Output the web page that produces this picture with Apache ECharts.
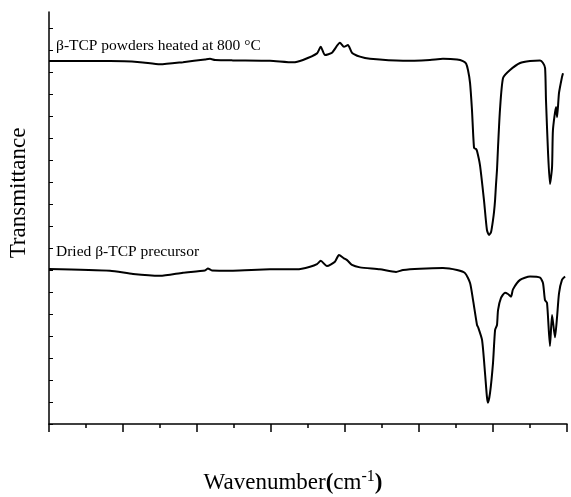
<!DOCTYPE html>
<html>
<head>
<meta charset="utf-8">
<title>FTIR</title>
<style>
    html, body { margin: 0; padding: 0; background: #fff; }
    #main { width: 571px; height: 497px; }
</style>
</head>
<body>
<div id="main"></div>
<script src="https://cdn.jsdelivr.net/npm/echarts@6/dist/echarts.min.js"></script>
<script>
    // wavenumber (cm-1) / transmittance (arb. units, offset)
    var heatedWn = [4000, 3588, 3385, 3250, 3095, 2946, 2912, 2878, 2757, 2507, 2351, 2284, 2189, 2164, 2135, 2088, 2034, 2007, 1980, 1953, 1899, 1831, 1608, 1426, 1338, 1243, 1203, 1182, 1169, 1155, 1142, 1128, 1115, 1108, 1088, 1061, 1041, 1027, 1013, 1000, 993, 986, 980, 973, 966, 953, 932, 885, 817, 750, 682, 662, 648, 642, 628, 615, 601, 595, 574, 567, 554, 534, 527];
    var heatedT = [165.0, 165.0, 164.5, 163.5, 164.5, 165.7, 166.0, 165.5, 165.3, 165.1, 164.4, 165.5, 168.5, 171.5, 167.7, 168.8, 173.3, 171.5, 172.3, 168.8, 167.0, 166.0, 165.1, 165.5, 166.0, 165.7, 165.0, 163.9, 160.9, 155.0, 142.7, 125.5, 125.0, 124.1, 117.7, 101.8, 88.2, 85.9, 87.3, 92.7, 96.4, 101.8, 108.6, 115.5, 125.9, 142.7, 157.3, 160.9, 164.1, 165.0, 165.2, 164.1, 161.8, 147.3, 123.2, 109.1, 116.8, 133.6, 144.1, 139.5, 150.5, 157.7, 159.5];

    var driedWn = [4000, 3588, 3432, 3250, 3095, 2946, 2926, 2899, 2757, 2507, 2324, 2236, 2189, 2164, 2122, 2068, 2041, 2007, 1986, 1953, 1899, 1764, 1655, 1608, 1493, 1338, 1243, 1189, 1155, 1135, 1108, 1101, 1074, 1054, 1041, 1034, 1020, 1000, 986, 973, 966, 946, 919, 899, 878, 865, 817, 750, 682, 662, 649, 635, 615, 601, 581, 567, 554, 534, 513];
    var driedT = [70.5, 69.7, 68.2, 67.4, 68.8, 69.8, 70.7, 69.8, 69.7, 70.3, 70.3, 71.5, 72.7, 74.2, 71.8, 73.8, 76.8, 75.3, 74.5, 72.3, 71.2, 70.3, 69.1, 70.0, 70.6, 70.9, 70.0, 68.6, 64.1, 56.4, 45.0, 44.1, 38.2, 23.2, 12.3, 9.7, 14.1, 27.7, 42.7, 45.0, 51.8, 57.3, 59.7, 59.1, 57.9, 61.2, 65.5, 67.0, 66.5, 64.0, 56.4, 55.1, 35.5, 49.5, 39.4, 48.8, 59.4, 65.5, 67.0];

    var yTicks = [0, 10, 20, 30, 40, 50, 60, 70, 80, 90, 100, 110, 120, 130, 140, 150, 160, 170, 180];

    function pairs(xs, ys) {
        var out = [];
        for (var i = 0; i < xs.length; i++) out.push([xs[i], ys[i]]);
        return out;
    }

    var serif = '"Liberation Serif", "DejaVu Serif", serif';
    var myChart = echarts.init(document.getElementById('main'));

    myChart.setOption({
        animation: false,
        backgroundColor: '#fff',
        grid: { left: 49, right: 4, top: 12, bottom: 73 },
        xAxis: {
            type: 'value',
            inverse: true,
            min: 500,
            max: 4000,
            interval: 500,
            axisLine: { show: true, onZero: false, lineStyle: { color: '#000', width: 1.5 } },
            axisTick: { show: true, inside: false, length: 8, lineStyle: { color: '#000', width: 1.5 } },
            minorTick: { show: true, splitNumber: 2, length: 4, lineStyle: { color: '#000', width: 1.5 } },
            axisLabel: { show: false },
            splitLine: { show: false },
            minorSplitLine: { show: false }
        },
        yAxis: {
            type: 'value',
            min: 0,
            max: 187.3,
            axisLine: { show: true, lineStyle: { color: '#000', width: 1.5 } },
            axisTick: { show: true, inside: true, length: 4, customValues: yTicks, lineStyle: { color: '#000', width: 1 } },
            axisLabel: { show: false, customValues: yTicks },
            splitLine: { show: false }
        },
        series: [
            {
                name: 'heated',
                type: 'line',
                showSymbol: false,
                smooth: 0.2,
                lineStyle: { color: '#000', width: 2 },
                data: pairs(heatedWn, heatedT)
            },
            {
                name: 'dried',
                type: 'line',
                showSymbol: false,
                smooth: 0.2,
                lineStyle: { color: '#000', width: 2 },
                data: pairs(driedWn, driedT)
            }
        ],
        graphic: [
            {
                type: 'text', left: 56, top: 38,
                style: { text: 'β-TCP powders heated at 800 °C', font: '15.5px ' + serif, fill: '#000' }
            },
            {
                type: 'text', left: 56, top: 244,
                style: { text: 'Dried β-TCP precursor', font: '15.5px ' + serif, fill: '#000' }
            },
            {
                type: 'text', x: 19, y: 193, rotation: Math.PI / 2,
                style: { text: 'Transmittance', font: '23px ' + serif, fill: '#000', align: 'center', verticalAlign: 'middle' }
            },
            {
                type: 'text', x: 293, y: 483,
                style: {
                    text: 'Wavenumber{b|(}cm{sup|-1}{b|)}',
                    font: '23px ' + serif,
                    fill: '#000',
                    align: 'center',
                    verticalAlign: 'middle',
                    rich: {
                        b: { font: 'bold 23px ' + serif, fill: '#000' },
                        sup: { font: '16px ' + serif, fill: '#000', verticalAlign: 'top', padding: [0, 0, 12, 0] }
                    }
                }
            }
        ]
    });
</script>
</body>
</html>
